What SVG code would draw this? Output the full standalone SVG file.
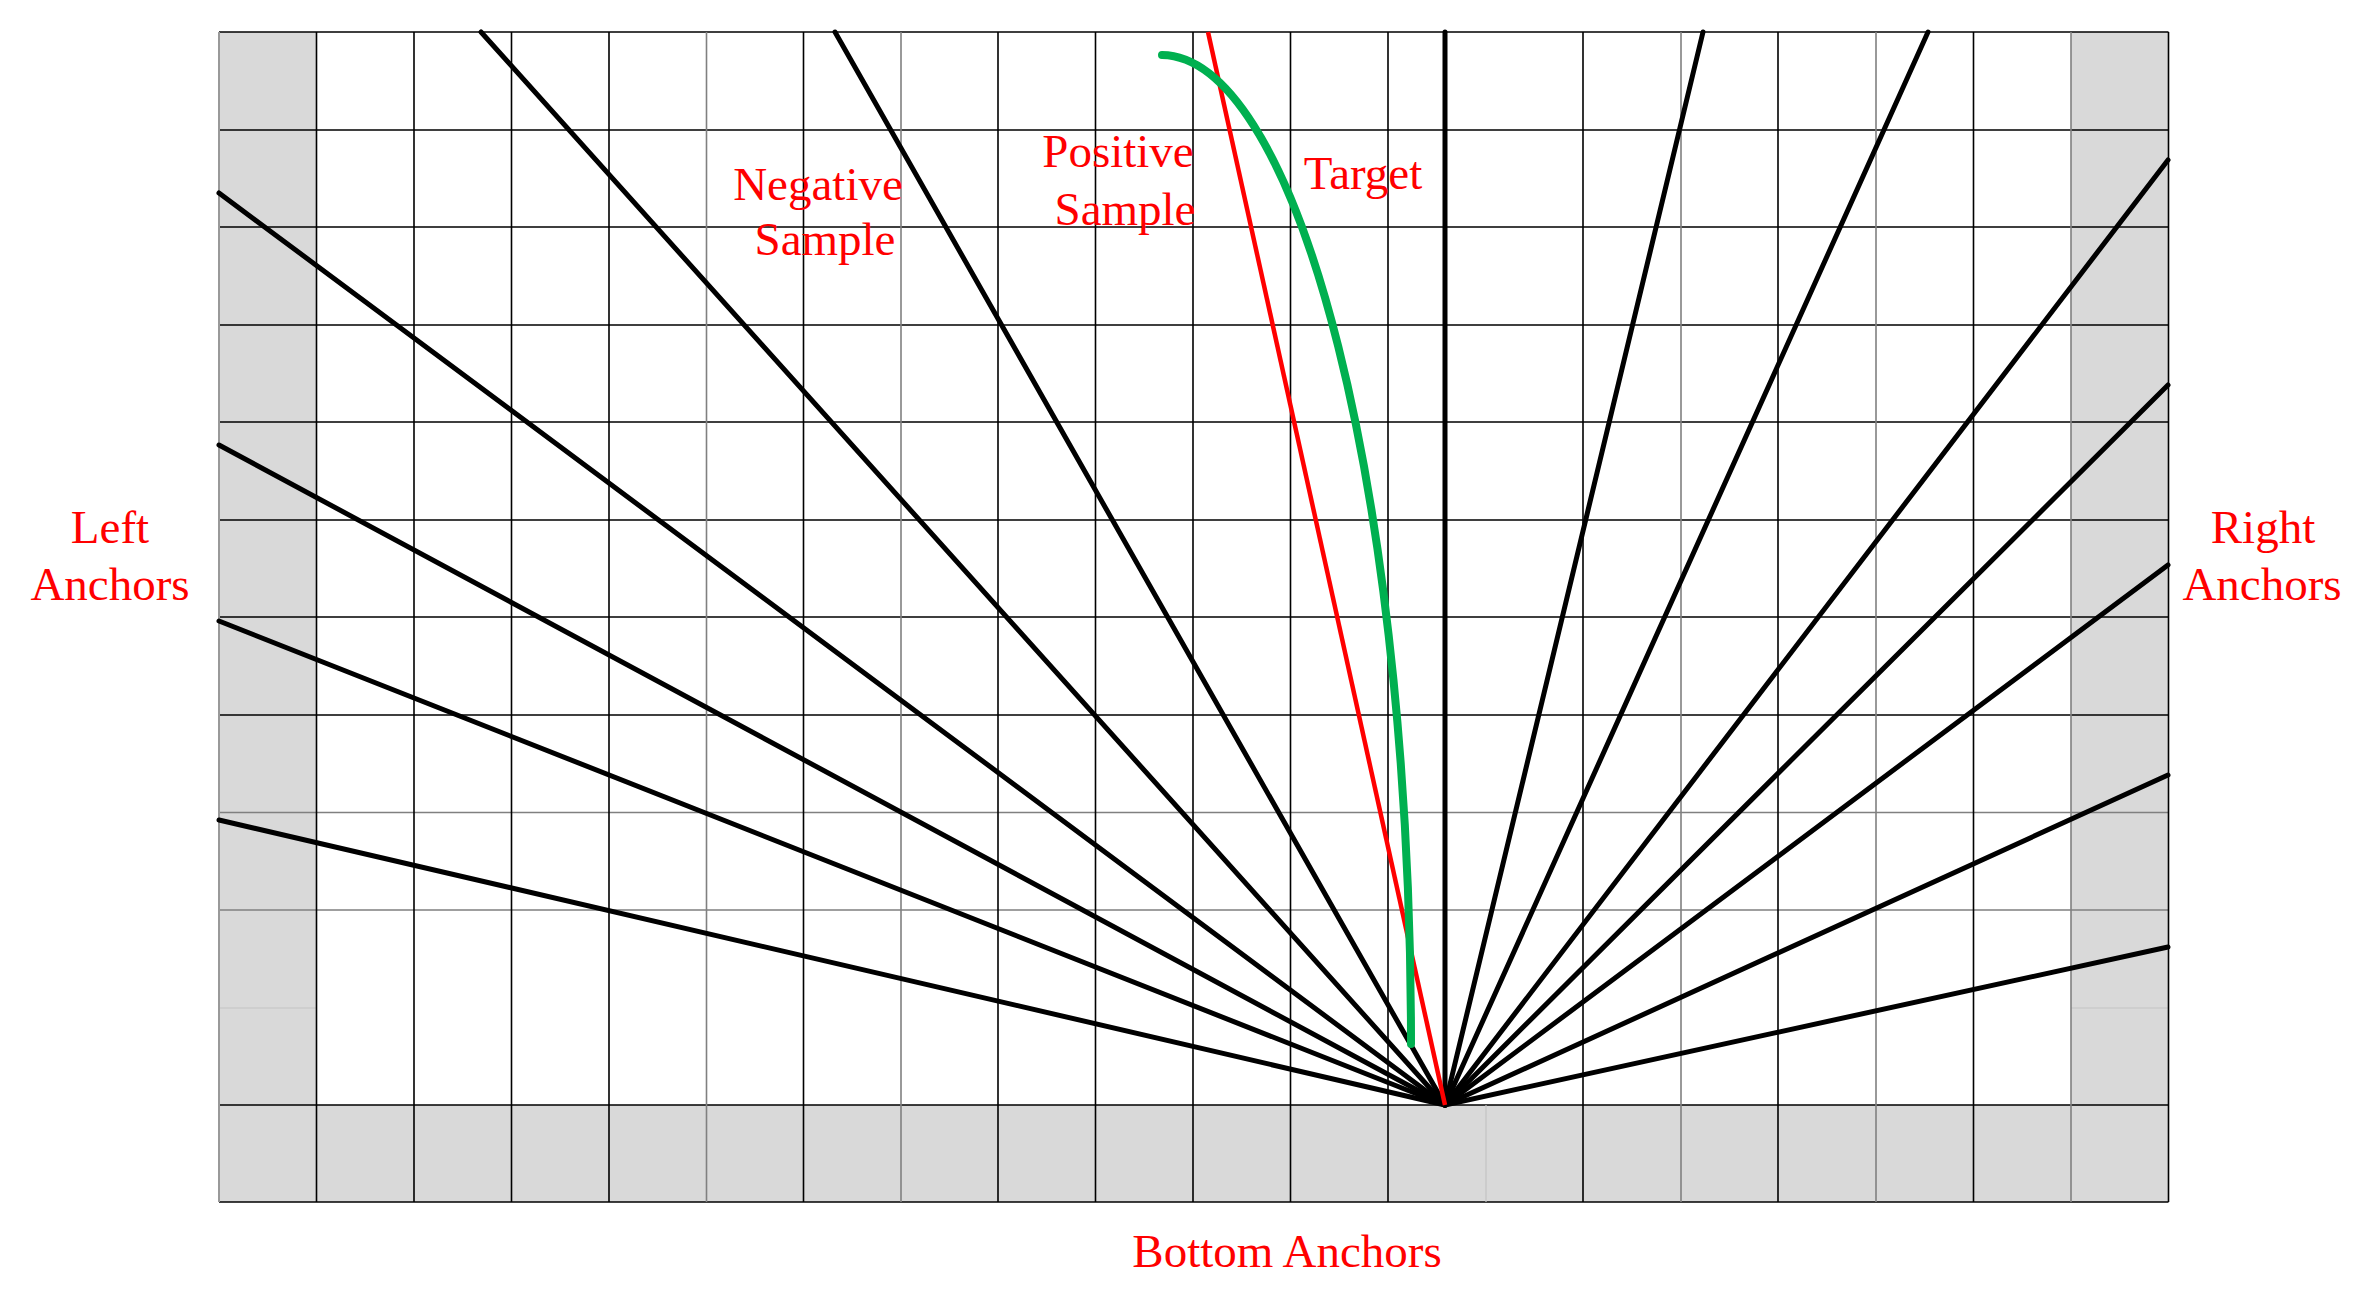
<svg xmlns="http://www.w3.org/2000/svg" width="2368" height="1303" viewBox="0 0 2368 1303">
<style>
.bg{fill:#ffffff}
.shade{fill:#d9d9d9}
.g{stroke:#000;stroke-width:1.6;fill:none}
.gl{stroke:#808080;stroke-width:1.6;fill:none}
.gf{stroke:#c4c4c4;stroke-width:1.2;fill:none}
.ray{stroke:#000;stroke-width:5;stroke-linecap:round;fill:none}
.pos{stroke:#ff0000;stroke-width:4.5;stroke-linecap:butt;fill:none}
.tgt{stroke:#00b050;stroke-width:8;stroke-linecap:round;fill:none}
.lbl{font-family:"Liberation Serif","Times New Roman",serif;font-size:47px;fill:#ff0000;text-anchor:middle}
</style>
<rect class="bg" x="0" y="0" width="2368" height="1303"/>
<g id="grid">
<rect class="shade" x="219" y="32" width="97.5" height="1170"/>
<rect class="shade" x="2071" y="32" width="97.5" height="1170"/>
<rect class="shade" x="219" y="1105" width="1949.5" height="97"/>
<!-- horizontal grid lines -->
<path class="g" d="M219,32H2168.5 M219,130H2168.5 M219,227H2168.5 M219,325H2168.5 M219,422H2168.5 M219,520H2168.5 M219,617H2168.5 M219,715H2168.5 M219,1105H2168.5 M219,1202H2168.5"/>
<path class="gl" d="M219,812.5H2168.5 M219,910H2168.5"/>
<path class="gf" d="M219,1008H316.5 M2071,1008H2168.5 M1486,1105V1202"/>
<!-- vertical grid lines -->
<path class="g" d="M316.5,32V1202 M414,32V1202 M511.5,32V1202 M609,32V1202 M803.5,32V1202 M998,32V1202 M1095.5,32V1202 M1193,32V1202 M1290.5,32V1202 M1388,32V1202 M1583,32V1202 M1778,32V1202 M1973.5,32V1202 M2168.5,32V1202"/>
<path class="gl" d="M706.5,32V1202 M901,32V1202 M1681,32V1202 M1876,32V1202 M2071,32V1202"/>
<path d="M219,32V1202" stroke="#999" stroke-width="2" fill="none"/>
</g>
<g id="connectors">
<g id="anchors-left">
<path class="ray" d="M1445,1105L219,193"/>
<path class="ray" d="M1445,1105L219,445"/>
<path class="ray" d="M1445,1105L219,621"/>
<path class="ray" d="M1445,1105L219,820"/>
</g>
<g id="anchors-top">
<path class="ray" d="M1445,1105L481,32"/>
<path class="ray" d="M1445,1105L835,32"/>
<path class="ray" d="M1445,1105L1445,32"/>
<path class="ray" d="M1445,1105L1703,32"/>
<path class="ray" d="M1445,1105L1928,32"/>
</g>
<g id="anchors-right">
<path class="ray" d="M1445,1105L2168,160"/>
<path class="ray" d="M1445,1105L2168,385"/>
<path class="ray" d="M1445,1105L2168,565"/>
<path class="ray" d="M1445,1105L2168,775"/>
<path class="ray" d="M1445,1105L2168,947"/>
</g>
<path id="positive-sample" class="pos" d="M1208,32L1445,1105"/>
<path id="target" class="tgt" d="M1162,55A250,989 0 0 1 1411,1044"/>
</g>
<g id="label-negative"><text class="lbl" x="818" y="200">Negative</text><text class="lbl" x="825" y="255">Sample</text></g>
<g id="label-positive"><text class="lbl" x="1118" y="167">Positive</text><text class="lbl" x="1125" y="225">Sample</text></g>
<g id="label-target"><text class="lbl" x="1363" y="189">Target</text></g>
<g id="label-left"><text class="lbl" x="110" y="543">Left</text><text class="lbl" x="110" y="600">Anchors</text></g>
<g id="label-right"><text class="lbl" x="2263" y="543">Right</text><text class="lbl" x="2262" y="600">Anchors</text></g>
<g id="label-bottom"><text class="lbl" x="1287" y="1267">Bottom Anchors</text></g>
</svg>
